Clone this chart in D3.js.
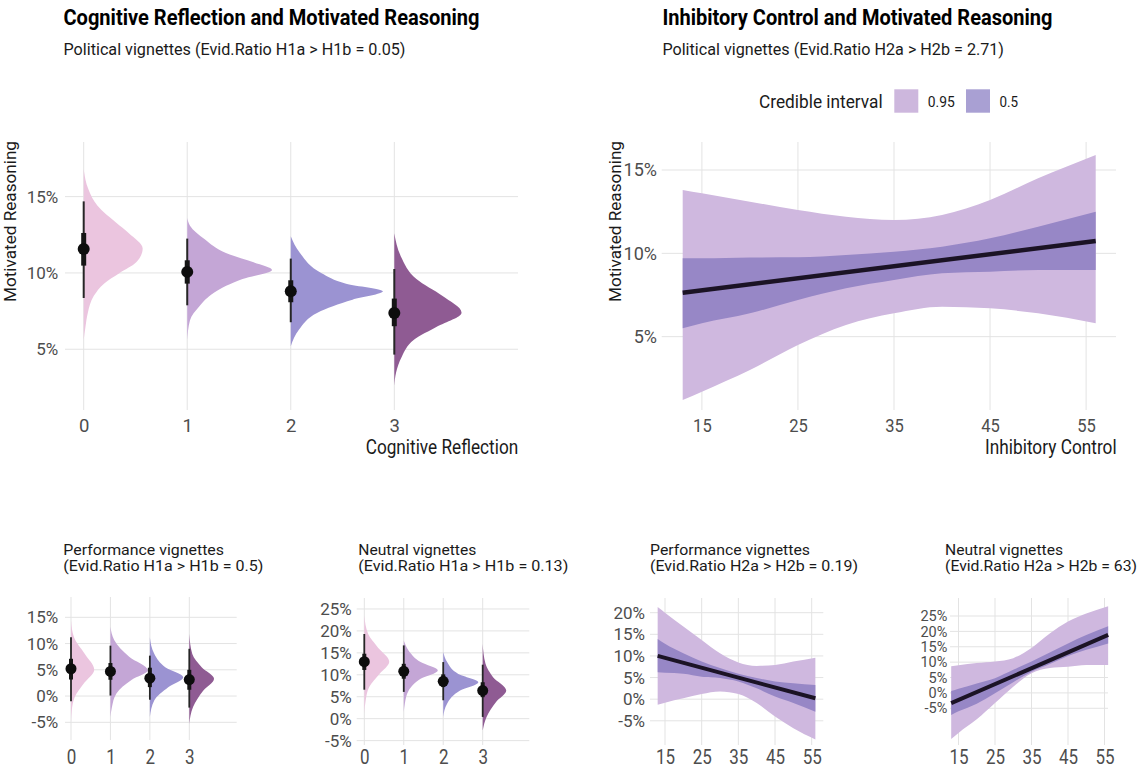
<!DOCTYPE html>
<html><head><meta charset="utf-8">
<script src="https://cdn.jsdelivr.net/npm/d3@7"></script>
<style>html,body{margin:0;padding:0;background:#fff;} svg{display:block;}</style>
</head><body><svg id="c" width="1142" height="772"></svg>
<script>
// ================= DATA =================
const crCategories = [0, 1, 2, 3];
const crTickLabels = ['0', '1', '2', '3'];
const icTicks = [15, 25, 35, 45, 55];
const icTickLabels = ['15', '25', '35', '45', '55'];
const icX = [13, 15, 20, 25, 30, 35, 40, 45, 50, 56];
const icLineX = [13, 56];

// Cognitive reflection – political vignettes (values in %)
const crPolMedian = [11.57, 10.07, 8.80, 7.38];
const crPolLo66 = [10.48, 9.30, 8.08, 6.51];
const crPolHi66 = [12.62, 10.83, 9.52, 8.32];
const crPolLo95 = [8.36, 7.88, 6.77, 4.65];
const crPolHi95 = [14.69, 12.25, 10.94, 10.26];
// slab profiles: [value %, relative density]
const crPolSlab0 = [[16.8,0],[15.5,0.05],[14.4,0.15],[13.3,0.35],[12.6,0.49],[11.6,0.64],[10.7,0.57],[10.0,0.39],[9.3,0.22],[8.5,0.11],[7.4,0.045],[6.5,0.02],[5.6,0]];
const crPolSlab1 = [[13.6,0],[13.1,0.03],[12.2,0.19],[11.3,0.42],[10.7,0.72],[10.2,0.92],[9.6,0.6],[8.7,0.29],[7.8,0.13],[6.9,0.03],[5.6,0]];
const crPolSlab2 = [[12.4,0],[11.3,0.1],[10.0,0.33],[9.3,0.6],[8.8,1.0],[8.25,0.67],[7.4,0.29],[6.3,0.09],[5.2,0]];
const crPolSlab3 = [[12.6,0],[11.1,0.07],[9.6,0.24],[8.5,0.52],[7.4,0.73],[6.5,0.47],[5.6,0.21],[4.5,0.08],[3.5,0.02],[2.6,0]];

// Cognitive reflection – performance vignettes
const crPerfMedian = [5.2, 4.7, 3.4, 3.15];
const crPerfLo66 = [3.15, 3.1, 1.7, 1.2];
const crPerfHi66 = [7.1, 6.3, 5.4, 5.0];
const crPerfLo95 = [-1.0, 0.1, -0.7, -2.2];
const crPerfHi95 = [11.2, 9.6, 7.7, 9.0];
const crPerfSlab0 = [[14.4,0],[11.2,0.08],[8.0,0.37],[5.0,0.62],[2.3,0.33],[-0.2,0.1],[-2.8,0.02],[-5.0,0]];
const crPerfSlab1 = [[13.2,0],[10.7,0.1],[7.5,0.5],[4.9,1.0],[3.1,0.57],[0.5,0.16],[-2.1,0.04],[-4.0,0]];
const crPerfSlab2 = [[11.2,0],[8.0,0.12],[5.5,0.41],[3.6,0.89],[1.7,0.49],[-0.8,0.12],[-4.0,0]];
const crPerfSlab3 = [[11.8,0],[8.0,0.08],[5.5,0.33],[3.3,0.66],[1.0,0.37],[-2.1,0.1],[-5.3,0]];

// Cognitive reflection – neutral vignettes
const crNeuMedian = [13.0, 10.8, 8.5, 6.4];
const crNeuLo66 = [11.1, 9.1, 7.2, 4.9];
const crNeuHi66 = [14.8, 12.5, 10.1, 8.3];
const crNeuLo95 = [6.6, 6.1, 4.2, 0.4];
const crNeuHi95 = [19.3, 16.7, 12.9, 12.3];
const crNeuSlab0 = [[23.5,0],[19.3,0.11],[16.3,0.38],[13.0,0.71],[10.2,0.43],[7.2,0.14],[4.2,0.04],[1.1,0]];
const crNeuSlab1 = [[17.8,0],[15.5,0.14],[12.9,0.48],[11.0,0.97],[9.1,0.48],[6.4,0.14],[3.4,0.03],[1.5,0]];
const crNeuSlab2 = [[15.2,0],[12.9,0.11],[10.2,0.43],[8.3,1.0],[6.4,0.48],[3.4,0.11],[0.4,0]];
const crNeuSlab3 = [[17.0,0],[12.5,0.08],[9.5,0.29],[6.4,0.67],[3.8,0.38],[0.4,0.11],[-2.7,0]];

// Inhibitory control – political
const icPolHi95 = [13.8, 13.6, 13.1, 12.6, 12.2, 12.0, 12.3, 13.2, 14.5, 15.9];
const icPolLo95 = [1.2, 1.7, 3.0, 4.5, 5.7, 6.4, 6.8, 6.7, 6.4, 5.8];
const icPolHi50 = [9.7, 9.7, 9.75, 9.76, 9.9, 10.1, 10.4, 10.9, 11.6, 12.5];
const icPolLo50 = [5.5, 5.8, 6.4, 7.2, 7.9, 8.4, 8.8, 8.9, 9.0, 9.0];
const icPolLine = [7.64, 10.74];

// Inhibitory control – performance
const icPerfHi95 = [21.3, 20.0, 16.8, 13.7, 10.6, 8.5, 7.7, 7.9, 8.7, 9.6];
const icPerfLo95 = [-1.3, -0.8, 0.2, 1.2, 1.8, 1.2, -0.9, -4.0, -6.7, -9.3];
const icPerfHi50 = [13.9, 12.8, 10.6, 8.7, 7.2, 5.9, 4.9, 4.1, 3.7, 3.3];
const icPerfLo50 = [6.2, 6.1, 5.9, 5.2, 4.9, 4.1, 2.5, 0.6, -0.9, -2.9];
const icPerfLine = [10.0, 0.2];

// Inhibitory control – neutral
const icNeuHi95 = [8.7, 9.0, 9.7, 10.2, 11.3, 14.6, 19.3, 23.2, 25.8, 28.2];
const icNeuLo95 = [-15.0, -13.0, -8.6, -3.3, 2.0, 6.4, 8.1, 8.5, 9.1, 9.1];
const icNeuHi50 = [0.6, 1.35, 3.1, 4.8, 7.5, 10.2, 13.1, 16.1, 18.8, 21.7];
const icNeuLo50 = [-7.2, -6.0, -3.5, -0.1, 3.5, 6.9, 9.4, 12.0, 14.0, 16.1];
const icNeuLine = [-3.34, 18.86];

const ticksPol = [5, 10, 15];
const ticksPerfCR = [-5, 0, 5, 10, 15];
const ticksNeuCR = [-5, 0, 5, 10, 15, 20, 25];
const ticksPerfIC = [-5, 0, 5, 10, 15, 20];
const ticksNeuIC = [-5, 0, 5, 10, 15, 20, 25];

const credLevels = ['0.95', '0.5'];

// ================= STYLE =================
const FONT = 'Roboto, "Open Sans", sans-serif';
const GRID = '#e3e3e3';
const TICK = '#4d4d4d';
const INK = '#1a1a1a';
const slabColors = ['#ebc5df', '#c4a6d6', '#9b93d2', '#8f5b93'];
const band95Color = '#cfb8df', band50Color = '#9787c6', lineColor = '#1b1325';
const legendColors = ['#cdb7dd', '#a9a0d3'];

const svg = d3.select('#c');
svg.append('rect').attr('width', 1142).attr('height', 772).attr('fill', '#fff');

function addText(x, y, s, o) {
  const t = svg.append('text')
    .attr('transform', `translate(${x},${y})` + (o.rot ? ` rotate(${o.rot})` : ''))
    .attr('font-family', FONT).attr('font-size', o.size)
    .attr('font-weight', o.weight || 400).attr('fill', o.fill || INK)
    .attr('text-anchor', o.anchor || 'start').text(s);
  if (o.len) t.attr('textLength', o.len).attr('lengthAdjust', 'spacingAndGlyphs');
  return t;
}

function makePanel(L) {
  const g = svg.append('g');
  const x = d3.scaleLinear().domain(L.xDom).range(L.xRange);
  const y = d3.scaleLinear().domain(L.yDom).range([L.bottom, L.top]);
  g.append('g').selectAll('line').data(L.yTicks).join('line')
    .attr('x1', L.left).attr('x2', L.right).attr('y1', d => y(d)).attr('y2', d => y(d))
    .attr('stroke', GRID).attr('stroke-width', 1);
  g.append('g').selectAll('line').data(L.xTicks).join('line')
    .attr('x1', d => x(d)).attr('x2', d => x(d)).attr('y1', L.top).attr('y2', L.bottom)
    .attr('stroke', GRID).attr('stroke-width', 1);
  const ya = g.append('g').attr('transform', `translate(${L.left},0)`)
    .call(d3.axisLeft(y).tickValues(L.yTicks).tickFormat(d => d + '%').tickSize(0).tickPadding(L.yPad));
  ya.select('.domain').remove();
  ya.selectAll('text').attr('font-family', FONT).attr('font-size', L.yFont).attr('fill', TICK);
  const xa = g.append('g').attr('transform', `translate(0,${L.xBase})`)
    .call(d3.axisBottom(x).tickValues(L.xTicks).tickFormat((d, i) => L.xLabels[i]).tickSize(0));
  xa.select('.domain').remove();
  xa.selectAll('text').attr('y', 0).attr('dy', 0).attr('font-family', FONT)
    .attr('font-size', L.xFont).attr('fill', TICK).attr('transform', `scale(${L.xSx},1)`);
  return { g, x, y };
}

function drawCR(L, D) {
  const { g, x, y } = makePanel(L);
  D.slabs.forEach((s, i) => {
    const c = crCategories[i];
    const area = d3.area().curve(d3.curveMonotoneY)
      .y(d => y(d[0])).x0(x(c)).x1(d => x(c + d[1] * L.slabScale));
    g.append('path').datum(s).attr('d', area).attr('fill', slabColors[i]);
  });
  g.append('g').selectAll('line').data(crCategories).join('line')
    .attr('x1', c => x(c)).attr('x2', c => x(c))
    .attr('y1', (c, i) => y(D.lo95[i])).attr('y2', (c, i) => y(D.hi95[i]))
    .attr('stroke', '#262626').attr('stroke-width', L.thin);
  g.append('g').selectAll('line').data(crCategories).join('line')
    .attr('x1', c => x(c)).attr('x2', c => x(c))
    .attr('y1', (c, i) => y(D.lo66[i])).attr('y2', (c, i) => y(D.hi66[i]))
    .attr('stroke', '#151515').attr('stroke-width', L.thick);
  g.append('g').selectAll('circle').data(crCategories).join('circle')
    .attr('cx', c => x(c)).attr('cy', (c, i) => y(D.median[i])).attr('r', L.r)
    .attr('fill', '#0d0d0d');
}

function drawIC(L, D) {
  const { g, x, y } = makePanel(L);
  const a95 = d3.area().curve(d3.curveMonotoneX).x((d, i) => x(icX[i]))
    .y0((d, i) => y(D.lo95[i])).y1(d => y(d));
  g.append('path').datum(D.hi95).attr('d', a95).attr('fill', band95Color);
  const a50 = d3.area().curve(d3.curveMonotoneX).x((d, i) => x(icX[i]))
    .y0((d, i) => y(D.lo50[i])).y1(d => y(d));
  g.append('path').datum(D.hi50).attr('d', a50).attr('fill', band50Color);
  const ln = d3.line().x((d, i) => x(icLineX[i])).y(d => y(d));
  g.append('path').datum(D.line).attr('d', ln).attr('fill', 'none')
    .attr('stroke', lineColor).attr('stroke-width', L.lw).attr('stroke-linecap', 'butt');
}

// ================= PANELS =================
drawCR({ xDom: [0, 3], xRange: [83.7, 394.3], yDom: [1.02, 18.58], top: 142, bottom: 410,
  left: 65, right: 518, yTicks: ticksPol, xTicks: crCategories, xLabels: crTickLabels,
  yPad: 6.7, yFont: 17, xBase: 432, xFont: 18.5, xSx: 1, slabScale: 0.89, thin: 2, thick: 5, r: 6 },
  { median: crPolMedian, lo66: crPolLo66, hi66: crPolHi66, lo95: crPolLo95, hi95: crPolHi95,
    slabs: [crPolSlab0, crPolSlab1, crPolSlab2, crPolSlab3] });

drawIC({ xDom: [15, 55], xRange: [701.9, 1086.1], yDom: [0.6, 16.68], top: 142, bottom: 410,
  left: 661.7, right: 1116, yTicks: ticksPol, xTicks: icTicks, xLabels: icTickLabels,
  yPad: 4.7, yFont: 18, xBase: 432, xFont: 18, xSx: 0.92, lw: 4.5 },
  { hi95: icPolHi95, lo95: icPolLo95, hi50: icPolHi50, lo50: icPolLo50, line: icPolLine });

drawCR({ xDom: [0, 3], xRange: [71, 189.3], yDom: [-8.37, 18.87], top: 597, bottom: 740,
  left: 65, right: 236.7, yTicks: ticksPerfCR, xTicks: crCategories, xLabels: crTickLabels,
  yPad: 6.7, yFont: 17, xBase: 764, xFont: 20, xSx: 0.85, slabScale: 0.95, thin: 1.8, thick: 4, r: 5.5 },
  { median: crPerfMedian, lo66: crPerfLo66, hi66: crPerfHi66, lo95: crPerfLo95, hi95: crPerfHi95,
    slabs: [crPerfSlab0, crPerfSlab1, crPerfSlab2, crPerfSlab3] });

drawCR({ xDom: [0, 3], xRange: [364.3, 482.7], yDom: [-6.0, 27.5], top: 598, bottom: 745,
  left: 356.7, right: 529.3, yTicks: ticksNeuCR, xTicks: crCategories, xLabels: crTickLabels,
  yPad: 5, yFont: 17, xBase: 764, xFont: 20, xSx: 0.85, slabScale: 0.89, thin: 1.8, thick: 4, r: 5.5 },
  { median: crNeuMedian, lo66: crNeuLo66, hi66: crNeuHi66, lo95: crNeuLo95, hi95: crNeuHi95,
    slabs: [crNeuSlab0, crNeuSlab1, crNeuSlab2, crNeuSlab3] });

drawIC({ xDom: [15, 55], xRange: [665, 811.7], yDom: [-10.6, 23.4], top: 598, bottom: 745,
  left: 650, right: 823.3, yTicks: ticksPerfIC, xTicks: icTicks, xLabels: icTickLabels,
  yPad: 5, yFont: 17, xBase: 764, xFont: 20, xSx: 0.85, lw: 4 },
  { hi95: icPerfHi95, lo95: icPerfLo95, hi50: icPerfHi50, lo50: icPerfLo50, line: icPerfLine });

drawIC({ xDom: [15, 55], xRange: [958.5, 1104.5], yDom: [-16.93, 30.85], top: 598, bottom: 745,
  left: 950, right: 1108, yTicks: ticksNeuIC, xTicks: icTicks, xLabels: icTickLabels,
  yPad: 2.7, yFont: 14.5, xBase: 764, xFont: 20, xSx: 0.85, lw: 4 },
  { hi95: icNeuHi95, lo95: icNeuLo95, hi50: icNeuHi50, lo50: icNeuLo50, line: icNeuLine });

// ================= TEXT =================
addText(63.5, 25, 'Cognitive Reflection and Motivated Reasoning', { size: 22, weight: 700, fill: '#000', len: 416 });
addText(63.5, 55, 'Political vignettes (Evid.Ratio H1a > H1b = 0.05)', { size: 17, len: 342 });
addText(662.4, 25, 'Inhibitory Control and Motivated Reasoning', { size: 22, weight: 700, fill: '#000', len: 390 });
addText(662.4, 55, 'Political vignettes (Evid.Ratio H2a > H2b = 2.71)', { size: 17, len: 341.6 });

// legend
addText(759, 108, 'Credible interval', { size: 19, len: 123.7 });
const legX = [894.3, 966];
const legLabX = [927.7, 999.4];
const legLen = [27, 18.6];
svg.append('g').selectAll('rect').data(credLevels).join('rect')
  .attr('x', (d, i) => legX[i]).attr('y', 89.3).attr('width', 24).attr('height', 23.4)
  .attr('fill', (d, i) => legendColors[i]);
credLevels.forEach((d, i) => addText(legLabX[i], 107.3, d, { size: 15, len: legLen[i] }));

// axis titles
addText(15.5, 141, 'Motivated Reasoning', { size: 17, rot: -90, anchor: 'end', len: 161 });
addText(621, 141, 'Motivated Reasoning', { size: 17, rot: -90, anchor: 'end', len: 161 });
addText(518.2, 454, 'Cognitive Reflection', { size: 19.5, anchor: 'end', len: 152.5 });
addText(1116.6, 454, 'Inhibitory Control', { size: 19.5, anchor: 'end', len: 131.5 });

// bottom panel titles (two lines each)
const subSize = 14;
const subY1 = 554.5, subY2 = 571;
addText(63.3, subY1, 'Performance vignettes', { size: subSize, len: 160.7 });
addText(63.3, subY2, '(Evid.Ratio H1a > H1b = 0.5)', { size: subSize, len: 200 });
addText(358.3, subY1, 'Neutral vignettes', { size: subSize, len: 118 });
addText(358.3, subY2, '(Evid.Ratio H1a > H1b = 0.13)', { size: subSize, len: 210 });
addText(650, subY1, 'Performance vignettes', { size: subSize, len: 160 });
addText(650, subY2, '(Evid.Ratio H2a > H2b = 0.19)', { size: subSize, len: 208 });
addText(945, subY1, 'Neutral vignettes', { size: subSize, len: 118 });
addText(945, subY2, '(Evid.Ratio H2a > H2b = 63)', { size: subSize, len: 192 });
</script></body></html>
